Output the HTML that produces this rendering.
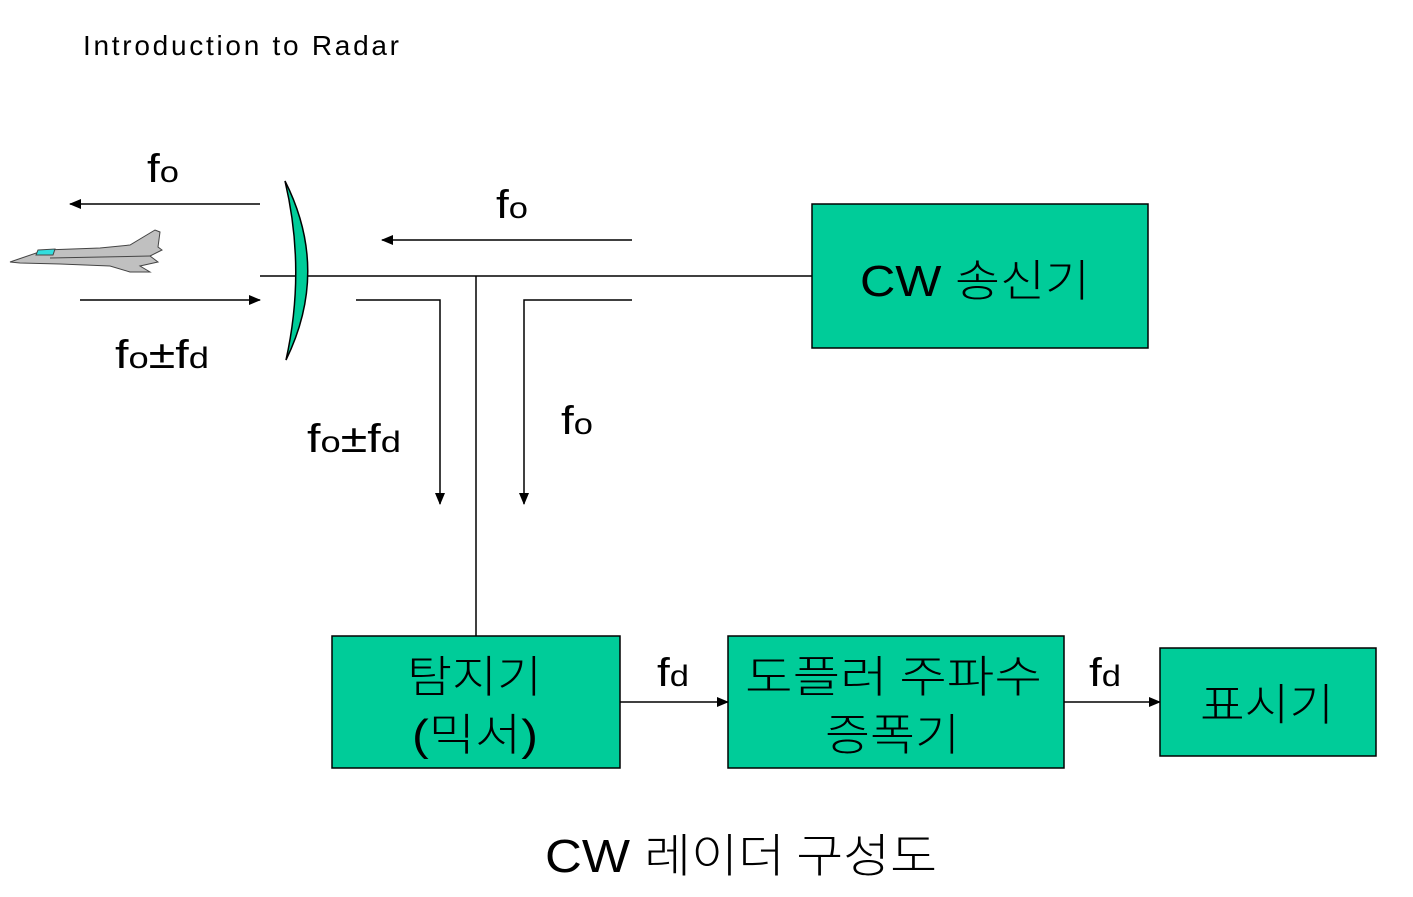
<!DOCTYPE html>
<html><head><meta charset="utf-8"><style>
body{margin:0;background:#fff;}
svg text{font-family:"Liberation Sans","Noto Sans CJK KR",sans-serif;fill:#000;}
.k{font-family:"Noto Sans CJK KR","NanumGothic",sans-serif;font-weight:300;}
</style></head><body>
<svg width="1413" height="892" viewBox="0 0 1413 892" xmlns="http://www.w3.org/2000/svg">
<defs><marker id="a" markerWidth="12" markerHeight="10" refX="11" refY="5" orient="auto" markerUnits="userSpaceOnUse"><path d="M0,0 L12,5 L0,10 z" fill="#000"/></marker></defs>
<text x="83" y="55" font-size="28" textLength="316">Introduction to Radar</text>
<g stroke="#000" stroke-width="1.5" fill="none">
<line x1="260" y1="276" x2="812" y2="276"/>
<line x1="476" y1="276" x2="476" y2="636"/>
<line x1="260" y1="204" x2="70" y2="204" marker-end="url(#a)"/>
<line x1="80" y1="300" x2="260" y2="300" marker-end="url(#a)"/>
<line x1="632" y1="240" x2="382" y2="240" marker-end="url(#a)"/>
<polyline points="356,300 440,300 440,504" marker-end="url(#a)"/>
<polyline points="632,300 524,300 524,504" marker-end="url(#a)"/>
<line x1="620" y1="702" x2="728" y2="702" marker-end="url(#a)"/>
<line x1="1064" y1="702" x2="1160" y2="702" marker-end="url(#a)"/>
</g>
<path d="M285,181 Q330,270 286,360 Q306,270 285,181 z" fill="#00CC99" stroke="#000" stroke-width="1.5"/>
<g stroke="#444" stroke-width="1">
<polygon points="10,262 45,250 100,248 130,245 155,230 160,232 158,247 162,250 150,256 158,262 140,266 150,272 130,272 110,266 60,264 20,263" fill="#c0c0c0"/>
<polygon points="38,250 55,249 53,255 36,255" fill="#33dddd"/>
<line x1="50" y1="258" x2="150" y2="256"/>
</g>
<g fill="#00CC99" stroke="#000" stroke-width="1.5">
<rect x="812" y="204" width="336" height="144"/>
<rect x="332" y="636" width="288" height="132"/>
<rect x="728" y="636" width="336" height="132"/>
<rect x="1160" y="648" width="216" height="108"/>
</g>
<text x="860" y="296" font-size="44" textLength="230" lengthAdjust="spacingAndGlyphs">CW <tspan class="k">송신기</tspan></text>
<text class="k" x="407" y="692" font-size="44" textLength="135" lengthAdjust="spacingAndGlyphs">탐지기</text>
<text x="412" y="750" font-size="44" textLength="126" lengthAdjust="spacingAndGlyphs">(<tspan class="k">믹서</tspan>)</text>
<text class="k" x="745" y="692" font-size="44" textLength="297" lengthAdjust="spacingAndGlyphs">도플러 주파수</text>
<text class="k" x="825" y="750" font-size="44" textLength="135" lengthAdjust="spacingAndGlyphs">증폭기</text>
<text class="k" x="1200" y="720" font-size="44" textLength="134" lengthAdjust="spacingAndGlyphs">표시기</text>
<text x="545" y="872" font-size="46" textLength="392" lengthAdjust="spacingAndGlyphs">CW <tspan class="k">레이더 구성도</tspan></text>
<g font-size="40">
<text x="147" y="182" textLength="32" lengthAdjust="spacingAndGlyphs">f<tspan font-size="30">o</tspan></text>
<text x="496" y="218" textLength="32" lengthAdjust="spacingAndGlyphs">f<tspan font-size="30">o</tspan></text>
<text x="115" y="368" textLength="94" lengthAdjust="spacingAndGlyphs">f<tspan font-size="30">o</tspan>±f<tspan font-size="30">d</tspan></text>
<text x="307" y="452" textLength="94" lengthAdjust="spacingAndGlyphs">f<tspan font-size="30">o</tspan>±f<tspan font-size="30">d</tspan></text>
<text x="561" y="434" textLength="32" lengthAdjust="spacingAndGlyphs">f<tspan font-size="30">o</tspan></text>
<text x="657" y="686" textLength="32" lengthAdjust="spacingAndGlyphs">f<tspan font-size="30">d</tspan></text>
<text x="1089" y="686" textLength="32" lengthAdjust="spacingAndGlyphs">f<tspan font-size="30">d</tspan></text>
</g>
</svg>
</body></html>
